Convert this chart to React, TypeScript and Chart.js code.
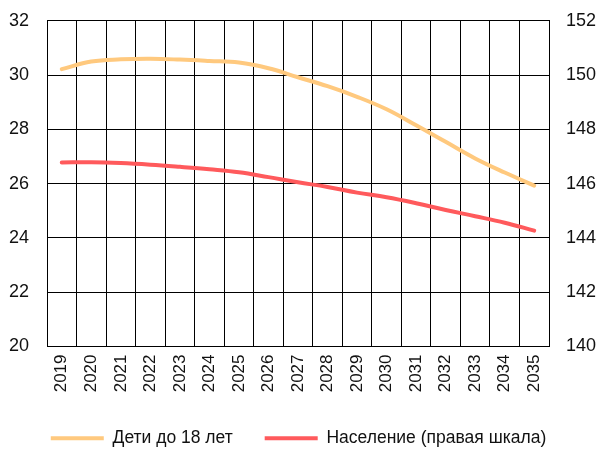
import React, { useEffect, useRef } from "react";
import { Chart, registerables } from "chart.js";

Chart.register(...registerables);

const years = [
  "2019", "2020", "2021", "2022", "2023", "2024", "2025", "2026", "2027",
  "2028", "2029", "2030", "2031", "2032", "2033", "2034", "2035",
];
const children = [
  30.22, 30.5, 30.58, 30.6, 30.57, 30.52, 30.46, 30.25, 29.92,
  29.59, 29.2, 28.74, 28.15, 27.54, 26.93, 26.41, 25.93,
];
const population = [
  146.78, 146.79, 146.76, 146.7, 146.62, 146.53, 146.42, 146.24, 146.05,
  145.88, 145.67, 145.5, 145.28, 145.03, 144.8, 144.56, 144.27,
];
const leftTicks = [20, 22, 24, 26, 28, 30, 32];
const rightTicks = [140, 142, 144, 146, 148, 150, 152];

const ORANGE = "#FFC97E";
const RED = "#FF5A5C";
const FONT = "'Liberation Sans', Arial, sans-serif";

export default function App() {
  const ref = useRef<HTMLCanvasElement | null>(null);
  useEffect(() => {
    if (!ref.current) return;
    const chart = new Chart(ref.current, {
      type: "line",
      data: {
        labels: years,
        datasets: [
          {
            label: "Дети до 18 лет",
            data: children,
            borderColor: ORANGE,
            backgroundColor: ORANGE,
            borderWidth: 4,
            pointRadius: 0,
            tension: 0.4,
            yAxisID: "y",
            borderCapStyle: "round",
          },
          {
            label: "Население (правая шкала)",
            data: population,
            borderColor: RED,
            backgroundColor: RED,
            borderWidth: 4,
            pointRadius: 0,
            tension: 0.4,
            yAxisID: "y1",
            borderCapStyle: "round",
          },
        ],
      },
      options: {
        responsive: false,
        animation: false,
        layout: { padding: { top: 10, bottom: -5, left: 0, right: 0 } },
        plugins: {
          tooltip: { enabled: false },
          legend: {
            position: "bottom",
            labels: {
              font: { family: FONT, size: 17.5 },
              color: "#111",
              boxWidth: 53,
              boxHeight: 4,
              padding: 32,
              generateLabels: (c: any) =>
                Chart.defaults.plugins.legend.labels
                  .generateLabels(c)
                  .map((l: any) => ({ ...l, lineWidth: 0, fillStyle: l.strokeStyle })),
            },
          },
        },
        scales: {
          x: {
            offset: true,
            afterFit: (s: any) => {
              s.height = 51;
            },
            grid: { color: "#000", lineWidth: 1, drawTicks: false, offset: true },
            border: { color: "#000", width: 1 },
            ticks: {
              font: { family: FONT, size: 17 },
              color: "#111",
              minRotation: 90,
              maxRotation: 90,
              padding: 8,
            },
          },
          y: {
            position: "left",
            min: 20,
            max: 32,
            afterBuildTicks: (s: any) => {
              s.ticks = leftTicks.map((v) => ({ value: v }));
            },
            afterFit: (s: any) => {
              s.width = 47;
            },
            grid: { color: "#000", lineWidth: 1, drawTicks: true, tickLength: 8, tickColor: "rgba(0,0,0,0)" },
            border: { color: "#000", width: 1 },
            ticks: {
              font: { family: FONT, size: 18 },
              color: "#111",
              padding: 10,
            },
          },
          y1: {
            position: "right",
            min: 140,
            max: 152,
            afterBuildTicks: (s: any) => {
              s.ticks = rightTicks.map((v) => ({ value: v }));
            },
            afterFit: (s: any) => {
              s.width = 48;
            },
            grid: { display: false, drawTicks: true, tickLength: 8, tickColor: "rgba(0,0,0,0)" },
            border: { color: "#000", width: 1 },
            ticks: {
              font: { family: FONT, size: 18 },
              color: "#111",
              padding: 9,
            },
          },
        },
      },
    });
    return () => chart.destroy();
  }, []);
  return (
    <div style={{ position: "fixed", left: 0, top: 0, width: 597, height: 452, background: "#fff" }}>
      <canvas ref={ref} width={597} height={452} style={{ display: "block" }} />
    </div>
  );
}
